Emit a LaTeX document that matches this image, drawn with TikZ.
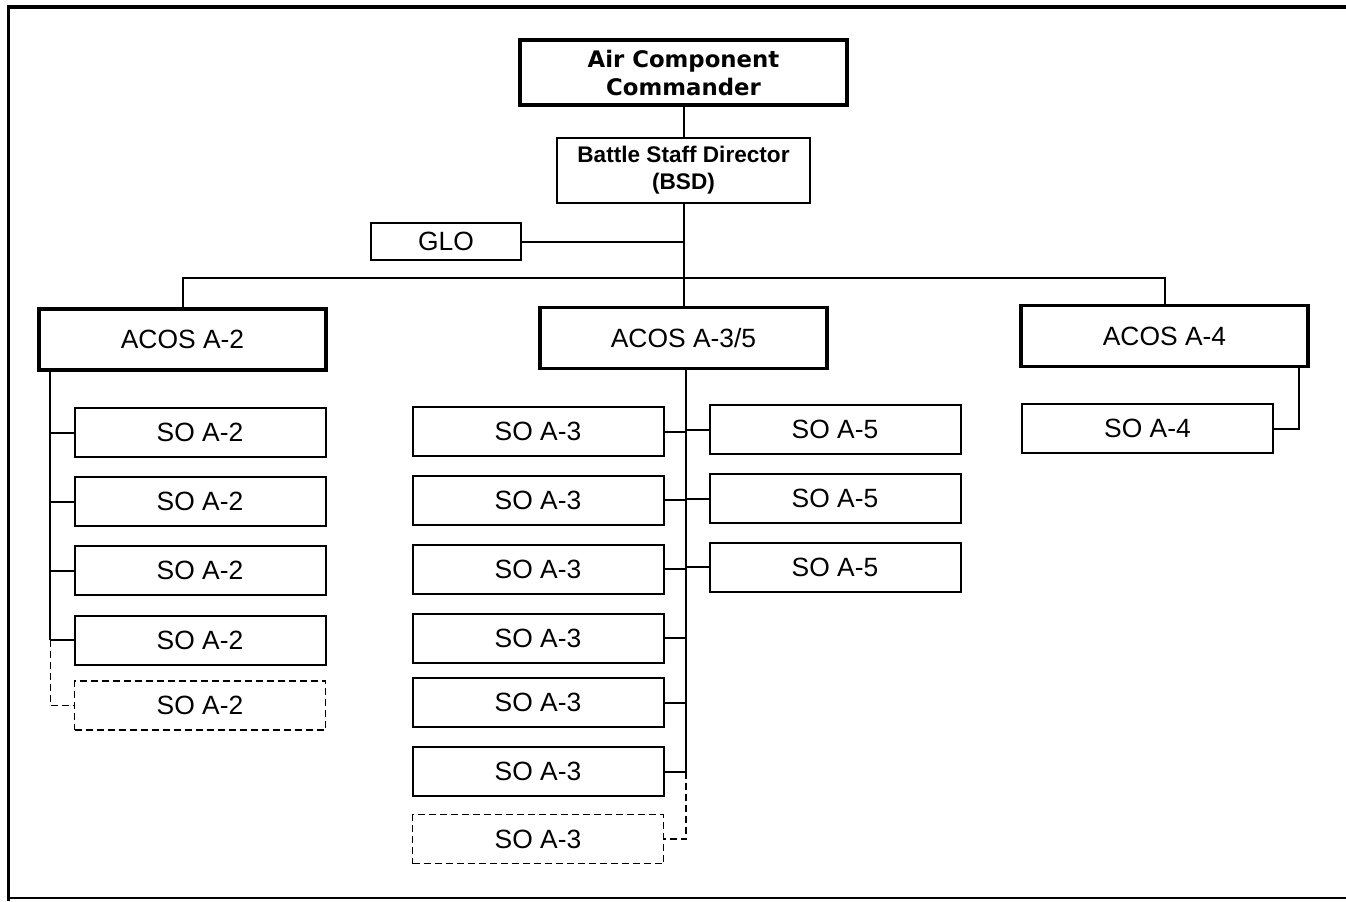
\documentclass[tikz,border=0pt]{standalone}
\usepackage{fontspec}
\setmainfont{Liberation Sans}
\newfontfamily\headfont{DejaVu Sans}
\usetikzlibrary{positioning}

\begin{document}
\begin{tikzpicture}[
          x=0.5pt, y=-0.5pt,
          box/.style={rectangle, draw, line width=1pt, inner sep=0pt, align=center, font=\fontsize{13.2}{15}\selectfont},
          acosbox/.style={box, line width=1.6pt, minimum width=143.5pt, minimum height=30.5pt},
          sobox/.style={box, minimum width=125.5pt, minimum height=24.5pt},
          sparebox/.style={sobox, line width=0.9pt, dash pattern=on 3.5pt off 2pt},
          link/.style={line width=1pt},
          sparelink/.style={link, line width=0.9pt, dash pattern=on 3.5pt off 2pt}
        ]
          \useasboundingbox (0,0) rectangle (1346,901);
          \draw[line width=1.6pt] (1346,7) -- (8.5,7) -- (8.5,901);
          \draw[line width=1.2pt] (8.5,898) -- (1346,898);

          \node[box, line width=1.6pt, minimum width=163.5pt, minimum height=32.5pt, font=\headfont\bfseries\fontsize{11.4}{14}\selectfont] (acc) at (683.5,72.5) {Air Component\\Commander};
          \node[box, line width=1.3pt, minimum width=126.5pt, minimum height=32.5pt, font=\bfseries\fontsize{11.3}{13.5}\selectfont] (bsd) at (683.5,170.5) {Battle Staff Director\\(BSD)};
          \node[box, line width=1.2pt, minimum width=75pt, minimum height=18.5pt] (glo) at (446,241.5) {GLO};

          \node[acosbox] (acos2) at (182.5,339.5) {ACOS A-2};
          \node[acosbox] (acos35) at (683.5,338) {ACOS A-3/5};
          \node[acosbox] (acos4) at (1164.5,336) {ACOS A-4};

          \foreach \y [count=\i] in {432.5,501.5,570.5,640}
            \node[sobox] (soa2-\i) at (200,\y) {SO A-2};
          \node[sparebox] (soa2-5) at (200,705.5) {SO A-2};

          \foreach \y [count=\i] in {431.5,500,569,638,702.5,771.5}
            \node[sobox] (soa3-\i) at (538,\y) {SO A-3};
          \node[sparebox] (soa3-7) at (538,839) {SO A-3};

          \foreach \y [count=\i] in {429.5,498.5,567}
            \node[sobox] (soa5-\i) at (835,\y) {SO A-5};

          \node[sobox] (soa4) at (1147.5,428.5) {SO A-4};

          \coordinate (bus) at (683.5,278);
          \coordinate (spine2) at ([xshift=6.5pt]acos2.south west);
          \coordinate (spine35) at ([xshift=1.25pt]acos35.south);

          \draw[link] (acc) -- (bsd);
          \draw[link] (bsd) -- (acos35);
          \draw[link] (glo) -- (glo -| bsd.south);
          \draw[link] (acos2.north) |- (bus) -| (acos4.north);

          \draw[link] (spine2) -- (spine2 |- soa2-4.west);
          \foreach \i in {1,...,4}
            \draw[link] (soa2-\i.west) -- (soa2-\i.west -| spine2);
          \draw[sparelink] (spine2 |- soa2-4.west) |- (soa2-5.west);

          \draw[link] (spine35) -- (spine35 |- soa3-6.east);
          \foreach \i in {1,...,6}
            \draw[link] (soa3-\i.east) -- (soa3-\i.east -| spine35);
          \foreach \i in {1,...,3}
            \draw[link] (soa5-\i.west) -- (soa5-\i.west -| spine35);
          \draw[sparelink] (spine35 |- soa3-6.east) |- (soa3-7.east);

          \draw[link] ([xshift=-5.5pt]acos4.south east) |- (soa4.east);
        \end{tikzpicture}
\end{document}
